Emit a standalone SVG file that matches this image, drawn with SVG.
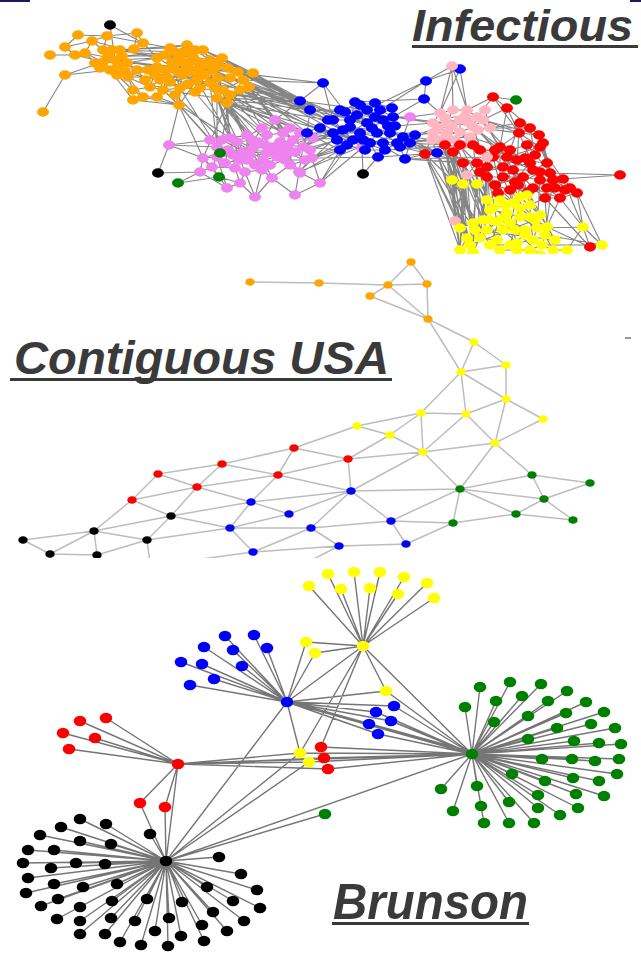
<svg xmlns="http://www.w3.org/2000/svg" width="641" height="953" viewBox="0 0 641 953">
<style>
.ei{stroke:#000;stroke-opacity:.48;stroke-width:1.15;fill:none}
.eu{stroke:#bdbdbd;stroke-width:1.5;fill:none}
.eb{stroke:#3a3a3a;stroke-opacity:.7;stroke-width:1.4;fill:none}
.ni{rx:6px;ry:4.7px}
.nu{rx:4.7px;ry:3.8px}
.nb{rx:6.3px;ry:5.2px}
.o{fill:#ffa500}.b{fill:#0000ff}.v{fill:#ee82ee}.p{fill:#ffb6c1}.r{fill:#ff0000}.y{fill:#ffff00}.g{fill:#008000}.k{fill:#000}
.t{font-family:"Liberation Sans",Arial,sans-serif;font-weight:bold;font-style:italic;fill:#3a3a3a}
.ul{fill:#3a3a3a}
</style>
<defs>
<clipPath id="clipInf"><rect x="0" y="0" width="641" height="254"/></clipPath>
<clipPath id="clipUsa"><rect x="0" y="255" width="641" height="303"/></clipPath>
</defs>
<rect width="641" height="953" fill="#fff"/>
<rect x="0" y="0" width="30" height="2" fill="#1c1c5c"/>
<rect x="630" y="0" width="11" height="2" fill="#1c1c5c"/>
<line x1="625" y1="338" x2="631" y2="338" stroke="#333" stroke-width="1"/>

<!-- ================= INFECTIOUS ================= -->
<g id="infectious" clip-path="url(#clipInf)">
<g id="inf-connectors">
<path class="ei" d="M78 35L107 36M107 36L137 33M78 35L65 47M65 47L92 41M92 41L107 36M65 47L75 55M50 55L75 55M75 55L103 62M85 53L103 62M85 53L92 41M65 75L43 112M65 75L103 62M65 75L110 70M110 25L143 43M110 25L115 60M137 33L143 43M137 33L134 49M143 43L134 49M107 36L103 50M103 50L120 50M120 50L134 49M103 50L115 60M115 60L127 63M127 63L110 70M103 62L115 60M110 70L128 77M128 77L137 70M137 70L127 63M120 50L127 63M92 41L103 50M103 62L127 63M95 63L103 62M95 63L110 70M85 53L95 63
M115 60L157 67M115 60L173 67M127 63L157 58M103 50L170 48M120 50L187 45M134 49L170 48M143 43L157 58M127 63L187 67M110 70L157 67M128 77L167 77M137 70L150 87M103 62L133 90M110 70L133 100M128 77L133 90M128 77L143 97M137 70L200 67M115 60L180 57M120 50L157 58M103 50L193 57M92 41L157 58M107 36L170 48M85 53L157 67M95 63L150 87
M133 90L143 97M133 90L150 87M133 100L143 97M143 97L157 97M150 87L163 90M157 97L163 90M163 90L180 88M150 87L157 67M157 67L167 77M167 77L182 75M182 75L197 80M197 80L210 83M210 83L223 90M223 90L217 98M217 98L227 103M223 90L227 103M173 67L187 67M187 67L200 67M200 67L213 70M213 70L222 58M222 58L238 72M238 72L253 73M238 72L243 80M243 80L249 87M210 60L222 58M203 50L210 60M187 45L203 50M170 48L187 45M170 48L180 57M180 57L193 57M193 57L210 60M157 58L170 48M157 58L173 67M180 57L173 67M193 57L200 67M182 75L187 67M197 80L200 67M210 83L213 70M163 90L167 77M180 88L182 75M180 88L179 105M179 105L163 90M179 105L197 80M230 78L243 80M230 78L213 70M205 75L197 80M205 75L213 70M190 62L193 57M190 62L200 67M145 80L150 87M145 80L137 70M210 83L238 72M223 90L243 80M210 60L238 72M217 98L210 83M227 103L243 80M249 87L227 103M222 58L253 73M187 67L197 80M157 67L163 90M173 67L180 88M167 77L180 88M200 67L223 90M213 70L227 103M187 45L210 60M203 50L222 58M157 97L179 105M143 97L179 105M133 100L179 105M163 90L217 98M150 87L210 83M157 67L222 58M173 67L238 72M180 88L223 90M167 77L230 78
M108 57L120 50M108 57L103 62M118 66L127 63M118 66L110 70M100 68L95 63M122 56L115 60M112 50L103 50M125 72L128 77M117 75L110 70M165 55L170 48M175 52L187 45M185 52L193 57M195 50L203 50M172 62L180 57M182 62L190 62M198 62L210 60M208 65L213 70M218 65L222 58M228 68L238 72M165 70L173 67M178 72L182 75M192 72L197 80M203 74L213 70M218 78L223 90M170 82L163 90M188 84L180 88M200 88L210 83M215 88L223 90M160 80L150 87M175 95L179 105M195 92L197 80M230 95L227 103M240 90L249 87M155 75L157 67M148 70L137 70M165 55L198 62M175 52L208 65M172 62L218 78M182 62L230 95M198 62L240 90M208 65L200 88M165 70L215 88M178 72L230 95M192 72L240 90M160 80L218 65M170 82L228 68M188 84L148 70M118 66L165 70M108 57L165 55M125 72L178 72M122 56L175 52M112 50L185 52M100 68L160 80
M253 73L300 101M253 73L310 110M249 87L300 101M249 87L310 110M249 87L328 120M243 80L323 83M238 72L300 101M227 103L300 101M227 103L307 133M217 98L310 110M217 98L275 120M223 90L333 120M210 83L300 101M222 58L300 101M222 58L310 110M203 50L300 101M230 78L310 110M243 80L333 130M249 87L343 130M227 103L333 133M210 83L328 133M253 73L340 120M238 72L350 120M187 45L300 101M200 67L310 110M197 80L307 133M213 70L323 83M243 80L300 101M249 87L307 133M253 73L333 120M238 72L310 110M230 78L300 101M217 98L300 101M223 90L310 110M210 60L300 101M213 70L310 110M227 103L328 120M240 90L310 110M230 95L300 101M218 78L320 128M228 68L300 101M215 88L307 133M240 90L337 140
M179 105L169 145M179 105L210 140M179 105L217 147M179 105L230 138M227 103L230 138M227 103L247 135M217 98L230 138M217 98L247 135M217 98L267 135M223 90L267 135M223 90L283 133M227 103L283 133M210 83L247 135M217 98L217 147M227 103L203 158M223 90L253 148M217 98L267 153M227 103L273 147M249 87L293 140M243 80L283 133M227 103L262 170M217 98L245 172M223 90L235 168M179 105L203 158M180 88L217 147M197 80L230 138M210 83L217 147M227 103L258 142M217 98L243 152M249 87L275 120M243 80L275 120M230 95L222 140M240 90L262 128M175 95L222 140M195 92L237 142
M169 145L210 140M169 145L203 158M169 145L217 147M210 140L217 147M217 147L230 138M230 138L247 135M247 135L253 148M253 148L267 135M267 135L283 133M283 133L293 140M293 140L303 147M303 147L313 138M313 138L293 140M275 120L283 133M275 120L267 135M275 120L293 140M253 148L273 147M273 147L287 153M287 153L267 153M267 153L243 152M243 152L233 155M233 155L217 157M217 157L203 158M203 158L200 172M200 172L212 167M212 167L217 157M212 167L235 168M235 168L245 172M245 172L262 170M262 170L277 157M277 157L290 165M290 165L299 172M299 172L312 158M312 158L303 147M240 183L245 172M240 183L227 188M227 188L212 167M240 183L255 197M255 197L262 170M272 178L262 170M272 178L295 195M295 195L299 172M320 183L312 158M320 183L299 172M272 178L290 165M247 160L263 160M263 160L277 157M247 160L243 152M233 155L247 160M258 142L267 153M280 142L287 153M288 145L303 147M258 142L247 135M280 142L273 147M200 172L227 188M217 147L233 155M230 138L243 152M247 135L247 160M267 135L267 153M283 133L287 153M293 140L290 165M303 147L299 172M203 158L212 167M263 160L272 178M235 168L240 183M255 197L272 178M295 195L320 183M217 157L227 188M210 140L233 155M230 138L253 148M253 148L263 160M273 147L277 157M287 153L299 172M262 170L255 197M245 172L255 197
M222 140L237 142M237 142L252 140M252 140L265 145M265 145L278 150M278 150L295 152M295 152L305 160M305 160L285 160M285 160L270 165M270 165L255 165M255 165L240 160M240 160L225 163M225 163L228 150M228 150L250 155M262 128L290 128M290 128L300 133M300 133L310 150M222 140L250 155M237 142L270 165M252 140L285 160M265 145L305 160M225 163L278 150M228 150L295 152M240 160L262 128M255 165L290 128M262 128L237 142M300 133L278 150
M158 173L200 172M178 183L200 172M178 183L219 177M219 177L240 183M219 177L212 167M220 153L217 147M220 153L233 155M220 153L203 158M219 177L203 158M158 173L169 145
M313 138L307 133M313 138L333 133M303 147L340 150M312 158L340 150M320 183L340 150M320 183L353 140M299 172L343 130M293 140L333 120M288 145L333 133M312 158L360 133M303 147L343 130M313 138L353 140M275 120L300 101M275 120L307 133M290 165L340 150M299 172L370 143M312 158L378 157M320 183L362 148M287 153L333 133M300 173L340 150M362 148L370 143M362 148L353 140M363 174L362 148M363 174L378 157M410 117L393 117M410 117L403 137M313 138L328 120M303 147L307 133M293 140L307 133M310 150L337 140M300 133L320 128M305 160L347 145M295 152L337 140
M300 101L310 110M300 101L323 83M310 110L328 120M328 120L333 120M333 120L345 112M345 112L355 102M355 102L367 110M367 110L380 110M380 110L393 117M393 117L383 120M383 120L367 123M367 123L350 120M350 120L333 120M333 120L343 130M343 130L360 133M360 133L377 133M377 133L390 133M390 133L403 137M403 137L410 143M410 143L400 147M400 147L383 143M383 143L370 143M370 143L353 140M353 140L340 150M340 150L343 130M307 133L333 133M333 133L343 130M323 83L333 120M323 83L345 112M355 102L350 120M367 110L372 128M372 128L383 120M372 128L360 133M395 126L390 133M395 126L393 117M378 157L383 143M378 157L370 143M405 159L400 147M405 159L410 143M437 153L410 143M437 153L425 154M307 133L310 110M310 110L345 112M350 120L360 133M367 123L377 133M383 120L390 133M353 140L360 133M370 143L377 133M383 143L390 133M400 147L403 137M333 133L353 140M343 130L353 140M300 101L333 120M328 120L343 130M307 133L340 150M300 101L367 110M310 110L380 110M310 110L367 123M328 120L383 120M300 101L350 120M307 133L370 143M307 133L360 133M328 133L383 143M333 133L400 147M345 112L393 117M355 102L395 126M350 120L403 137M343 130L410 143M360 133L405 159M340 150L383 143
M340 110L357 115M357 115L375 117M375 117L388 126M350 127L363 140M363 140L397 143M397 143L385 150M385 150L365 150M365 150L347 145M320 128L337 140M392 108L375 103M375 103L360 105M360 105L340 110M415 135L397 143M340 110L388 126M357 115L397 143M320 128L385 150M337 140L392 108M350 127L415 135
M355 102L424 99M424 99L426 81M426 81L367 110M426 81L460 69M460 69L452 66M452 66L426 81M452 66L473 127M460 69L467 110M424 99L440 113M393 117L424 99M380 110L426 81M323 83L300 101M460 69L440 113M452 66L453 110
M393 117L433 123M403 137L433 133M410 143L432 140M410 117L440 113M395 126L433 123M403 137L425 154M405 159L425 154M410 143L445 145M400 147L453 152M405 159L463 163M378 157L425 154M390 133L447 133M383 143L440 140M410 143L477 163M403 137L463 163M400 147L487 167M405 159L493 157M393 117L447 123M410 143L460 132M378 157L453 152M405 159L477 163M403 137L445 145M390 133L432 140M437 153L453 152M437 153L445 145M415 135L438 128M397 143L445 138M385 150L462 145
M440 113L453 110M453 110L467 110M467 110L477 117M477 117L483 120M433 123L447 123M447 123L460 120M460 120L473 127M433 133L447 133M447 133L460 132M440 140L455 140M432 140L440 140M440 113L433 123M453 110L447 123M467 110L460 120M477 117L473 127M433 123L433 133M447 123L447 133M460 120L460 132M473 127L460 132M455 140L460 132M440 140L447 133M483 120L473 127M432 140L433 133M445 118L465 116M438 128L452 126M452 126L468 122M468 122L478 130M445 138L470 137M470 137L462 145M485 110L490 128M445 118L478 130M438 128L470 137M465 116L445 138
M477 117L493 97M483 120L507 108M473 127L519 133M483 120L519 133M460 132L473 145M455 140L453 152M447 133L445 145M440 140L445 145M473 127L500 147M460 132L487 157M455 140L463 163M447 133L477 163M483 120L539 135M473 127L507 157M440 140L453 152M433 133L425 154M460 132L493 157M483 120L500 147M447 123L473 145M477 117L517 160M483 120L513 170M473 127L487 167M467 110L493 97M493 97L516 100M440 113L452 66M490 128L520 123M490 128L530 128M478 130L495 150M470 137L510 150
M425 154L445 145M445 145L453 152M453 152L473 145M473 145L487 157M487 157L500 147M500 147L507 157M507 157L517 160M517 160L519 133M519 133L539 135M539 135L543 143M543 143L540 147M540 147L547 163M547 163L533 170M533 170L550 173M550 173L563 179M563 179L553 180M553 180L540 180M540 180L523 177M523 177L503 177M503 177L487 177M487 177L487 167M487 167L503 167M503 167L513 170M513 170L517 160M493 157L477 163M477 163L463 163M463 163L453 152M493 157L487 167M507 157L503 167M513 170L523 177M533 170L540 180M547 163L550 173M533 188L547 188M547 188L553 180M533 188L523 177M545 198L560 198M560 198L577 193M577 193L563 179M545 198L547 188M498 193L503 177M498 193L487 177M563 179L620 175M540 147L519 133M500 147L519 133M507 157L540 147M517 160L547 163M513 170L533 170M503 177L513 170M487 167L477 163M467 175L477 163M467 175L487 177M487 157L493 157M473 145L493 157M500 147L507 108M519 133L507 108M507 108L493 97M543 143L550 173M540 147L563 179M533 188L560 198M553 180L577 193M547 188L577 193M540 180L547 188M523 177L533 188M503 167L523 177M487 167L513 170M500 147L517 160M453 152L463 163M445 145L463 163M493 157L503 167M539 135L547 163M543 143L553 180M545 198L533 188M560 198L547 188M519 133L540 180M507 108L539 135M493 97L519 133
M460 145L480 150M480 150L495 150M495 150L510 150M510 150L527 145M527 145L525 158M525 158L530 163M530 163L540 172M540 172L518 185M518 185L528 192M528 192L515 182M555 188L570 188M535 155L480 172M480 172L495 185M495 185L510 190M565 190L555 188M520 123L530 128M460 145L525 158M480 150L540 172M495 150L528 192M510 150L555 188M527 145L565 190M535 155L515 182M480 172L530 163M495 185L540 172M520 123L510 150M530 128L535 155
M425 154L452 180M425 154L460 228M425 154L460 250M445 145L452 180M445 145L463 184M445 145L473 223M445 145L460 250M453 152L463 184M453 152L477 184M453 152L460 228M453 152L467 238M463 163L477 184M463 163L473 252M463 163L483 220M467 175L460 228M467 175L460 250M467 175L473 252M477 163L487 200M477 163L490 210M487 167L500 200M487 167L497 222M487 177L487 200M487 177L507 213M487 177L483 220M498 193L487 200M498 193L500 200M498 193L513 203M503 177L513 203M503 177L527 195M513 170L527 195M523 177L530 205M523 177L527 195M533 188L530 205M540 180L537 228M545 198L547 227M545 198L530 205M560 198L547 227M560 198L583 227M577 193L583 227M577 193L602 245M563 179L583 227M553 180L545 235M425 154L467 238M437 153L460 228M437 153L452 180M445 145L480 238M453 152L473 223M463 163L460 250M477 163L473 252M487 167L480 238M507 157L513 203M513 170L520 217M523 177L510 223M473 145L483 220M487 157L490 210M493 157L507 213M500 147L500 200M463 163L497 240M453 152L487 230M445 145L467 238M437 153L473 252M425 154L480 238M467 175L497 240M452 180L460 250M463 184L467 238M452 180L473 252M463 184L460 250M477 184L480 238M455 221L460 250M455 221L467 238M455 221L452 180M455 221L463 184M455 221L453 152M432 140L470 245M440 140L475 230M437 153L490 245M460 145L493 208M480 172L505 205M495 185L520 208M510 190L535 220M518 185L540 215M528 192L555 240
M590 247L583 227M590 247L547 227M590 247L545 198M620 175L563 179M602 245L583 227M602 245L545 235M620 175L550 173
M452 180L463 184M463 184L477 184M477 184L487 200M487 200L500 200M500 200L513 203M513 203L530 205M530 205L527 195M527 195L513 203M487 200L490 210M490 210L507 213M507 213L520 217M520 217L530 217M530 217L530 205M490 210L483 220M483 220L497 222M497 222L510 223M510 223L520 217M483 220L473 223M473 223L460 228M460 228L467 238M467 238L480 238M480 238L497 240M497 240L503 230M503 230L487 230M487 230L483 220M503 230L510 223M517 243L533 240M533 240L537 228M537 228L547 227M547 227L542 245M542 245L533 240M517 243L503 230M517 243L517 250M517 250L530 250M530 250L542 245M553 250L542 245M567 250L553 250M583 227L602 245M583 227L567 250M545 235L547 227M545 235L553 250M460 250L467 238M473 252L480 238M500 250L497 240M500 250L517 250M487 230L480 238M520 217L537 228M530 217L547 227M507 213L497 222M500 200L507 213M513 203L520 217M473 223L487 230M497 222L487 230M510 223L517 243M530 217L533 240M460 228L452 180M463 184L460 228M477 184L473 223M477 184L490 210M583 227L537 228M602 245L542 245
M493 208L505 205M505 205L520 208M520 208L535 220M490 220L503 218M503 218L515 230M515 230L525 230M490 245L510 245M510 245L525 235M475 230L470 245M540 215L555 240M520 197L540 215M493 208L525 230M505 205L490 245M520 208L510 245M490 220L525 235M503 218L540 255M475 230L555 240M470 245L535 220"/>
</g>
<g id="inf-nodes">
<g id="inf-orange" class="o">
<ellipse id="io1" class="ni" cx="78" cy="35"/><ellipse id="io2" class="ni" cx="107" cy="36"/><ellipse id="io3" class="ni" cx="137" cy="33"/><ellipse id="io4" class="ni" cx="65" cy="47"/><ellipse id="io5" class="ni" cx="92" cy="41"/><ellipse id="io6" class="ni" cx="50" cy="55"/><ellipse id="io7" class="ni" cx="75" cy="55"/><ellipse id="io8" class="ni" cx="85" cy="53"/><ellipse id="io9" class="ni" cx="143" cy="43"/><ellipse id="io10" class="ni" cx="134" cy="49"/><ellipse id="io11" class="ni" cx="65" cy="75"/><ellipse id="io12" class="ni" cx="43" cy="112"/><ellipse id="io13" class="ni" cx="103" cy="62"/><ellipse id="io14" class="ni" cx="115" cy="60"/><ellipse id="io15" class="ni" cx="127" cy="63"/><ellipse id="io16" class="ni" cx="110" cy="70"/><ellipse id="io17" class="ni" cx="103" cy="50"/><ellipse id="io18" class="ni" cx="120" cy="50"/><ellipse id="io19" class="ni" cx="128" cy="77"/><ellipse id="io20" class="ni" cx="137" cy="70"/><ellipse id="io21" class="ni" cx="133" cy="90"/><ellipse id="io22" class="ni" cx="133" cy="100"/><ellipse id="io23" class="ni" cx="143" cy="97"/><ellipse id="io24" class="ni" cx="150" cy="87"/><ellipse id="io25" class="ni" cx="157" cy="97"/><ellipse id="io26" class="ni" cx="163" cy="90"/><ellipse id="io27" class="ni" cx="180" cy="88"/><ellipse id="io28" class="ni" cx="179" cy="105"/><ellipse id="io29" class="ni" cx="170" cy="48"/><ellipse id="io30" class="ni" cx="187" cy="45"/><ellipse id="io31" class="ni" cx="203" cy="50"/><ellipse id="io32" class="ni" cx="222" cy="58"/><ellipse id="io33" class="ni" cx="210" cy="60"/><ellipse id="io34" class="ni" cx="253" cy="73"/><ellipse id="io35" class="ni" cx="238" cy="72"/><ellipse id="io36" class="ni" cx="243" cy="80"/><ellipse id="io37" class="ni" cx="249" cy="87"/><ellipse id="io38" class="ni" cx="223" cy="90"/><ellipse id="io39" class="ni" cx="217" cy="98"/><ellipse id="io40" class="ni" cx="227" cy="103"/><ellipse id="io41" class="ni" cx="173" cy="67"/><ellipse id="io42" class="ni" cx="187" cy="67"/><ellipse id="io43" class="ni" cx="200" cy="67"/><ellipse id="io44" class="ni" cx="213" cy="70"/><ellipse id="io45" class="ni" cx="197" cy="80"/><ellipse id="io46" class="ni" cx="210" cy="83"/><ellipse id="io47" class="ni" cx="157" cy="67"/><ellipse id="io48" class="ni" cx="167" cy="77"/><ellipse id="io49" class="ni" cx="182" cy="75"/><ellipse id="io50" class="ni" cx="180" cy="57"/><ellipse id="io51" class="ni" cx="193" cy="57"/><ellipse id="io52" class="ni" cx="157" cy="58"/><ellipse id="io53" class="ni" cx="95" cy="63"/><ellipse id="io54" class="ni" cx="145" cy="80"/><ellipse id="io55" class="ni" cx="190" cy="62"/><ellipse id="io56" class="ni" cx="205" cy="75"/><ellipse id="io57" class="ni" cx="230" cy="78"/>
<ellipse id="io58" class="ni" cx="108" cy="57"/><ellipse id="io59" class="ni" cx="118" cy="66"/><ellipse id="io60" class="ni" cx="100" cy="68"/><ellipse id="io61" class="ni" cx="122" cy="56"/><ellipse id="io62" class="ni" cx="112" cy="50"/><ellipse id="io63" class="ni" cx="125" cy="72"/><ellipse id="io64" class="ni" cx="117" cy="75"/><ellipse id="io65" class="ni" cx="165" cy="55"/><ellipse id="io66" class="ni" cx="175" cy="52"/><ellipse id="io67" class="ni" cx="185" cy="52"/><ellipse id="io68" class="ni" cx="195" cy="50"/><ellipse id="io69" class="ni" cx="172" cy="62"/><ellipse id="io70" class="ni" cx="182" cy="62"/><ellipse id="io71" class="ni" cx="198" cy="62"/><ellipse id="io72" class="ni" cx="208" cy="65"/><ellipse id="io73" class="ni" cx="218" cy="65"/><ellipse id="io74" class="ni" cx="228" cy="68"/><ellipse id="io75" class="ni" cx="165" cy="70"/><ellipse id="io76" class="ni" cx="178" cy="72"/><ellipse id="io77" class="ni" cx="192" cy="72"/><ellipse id="io78" class="ni" cx="203" cy="74"/><ellipse id="io79" class="ni" cx="218" cy="78"/><ellipse id="io80" class="ni" cx="170" cy="82"/><ellipse id="io81" class="ni" cx="188" cy="84"/><ellipse id="io82" class="ni" cx="200" cy="88"/><ellipse id="io83" class="ni" cx="215" cy="88"/><ellipse id="io84" class="ni" cx="160" cy="80"/><ellipse id="io85" class="ni" cx="175" cy="95"/><ellipse id="io86" class="ni" cx="195" cy="92"/><ellipse id="io87" class="ni" cx="230" cy="95"/><ellipse id="io88" class="ni" cx="240" cy="90"/><ellipse id="io89" class="ni" cx="155" cy="75"/><ellipse id="io90" class="ni" cx="148" cy="70"/>
</g>
<g id="inf-violet" class="v">
<ellipse id="iv1" class="ni" cx="169" cy="145"/><ellipse id="iv2" class="ni" cx="210" cy="140"/><ellipse id="iv3" class="ni" cx="217" cy="147"/><ellipse id="iv4" class="ni" cx="230" cy="138"/><ellipse id="iv5" class="ni" cx="247" cy="135"/><ellipse id="iv6" class="ni" cx="267" cy="135"/><ellipse id="iv7" class="ni" cx="275" cy="120"/><ellipse id="iv8" class="ni" cx="283" cy="133"/><ellipse id="iv9" class="ni" cx="293" cy="140"/><ellipse id="iv10" class="ni" cx="303" cy="147"/><ellipse id="iv11" class="ni" cx="313" cy="138"/><ellipse id="iv12" class="ni" cx="253" cy="148"/><ellipse id="iv13" class="ni" cx="273" cy="147"/><ellipse id="iv14" class="ni" cx="287" cy="153"/><ellipse id="iv15" class="ni" cx="267" cy="153"/><ellipse id="iv16" class="ni" cx="243" cy="152"/><ellipse id="iv17" class="ni" cx="203" cy="158"/><ellipse id="iv18" class="ni" cx="217" cy="157"/><ellipse id="iv19" class="ni" cx="233" cy="155"/><ellipse id="iv20" class="ni" cx="247" cy="160"/><ellipse id="iv21" class="ni" cx="263" cy="160"/><ellipse id="iv22" class="ni" cx="277" cy="157"/><ellipse id="iv23" class="ni" cx="312" cy="158"/><ellipse id="iv24" class="ni" cx="200" cy="172"/><ellipse id="iv25" class="ni" cx="212" cy="167"/><ellipse id="iv26" class="ni" cx="235" cy="168"/><ellipse id="iv27" class="ni" cx="245" cy="172"/><ellipse id="iv28" class="ni" cx="262" cy="170"/><ellipse id="iv29" class="ni" cx="290" cy="165"/><ellipse id="iv30" class="ni" cx="299" cy="172"/><ellipse id="iv31" class="ni" cx="240" cy="183"/><ellipse id="iv32" class="ni" cx="227" cy="188"/><ellipse id="iv33" class="ni" cx="272" cy="178"/><ellipse id="iv34" class="ni" cx="255" cy="197"/><ellipse id="iv35" class="ni" cx="295" cy="195"/><ellipse id="iv36" class="ni" cx="320" cy="183"/><ellipse id="iv37" class="ni" cx="410" cy="117"/><ellipse id="iv38" class="ni" cx="362" cy="148"/><ellipse id="iv39" class="ni" cx="300" cy="173"/><ellipse id="iv40" class="ni" cx="280" cy="142"/><ellipse id="iv41" class="ni" cx="258" cy="142"/><ellipse id="iv42" class="ni" cx="288" cy="145"/>
<ellipse id="iv43" class="ni" cx="222" cy="140"/><ellipse id="iv44" class="ni" cx="237" cy="142"/><ellipse id="iv45" class="ni" cx="252" cy="140"/><ellipse id="iv46" class="ni" cx="265" cy="145"/><ellipse id="iv47" class="ni" cx="278" cy="150"/><ellipse id="iv48" class="ni" cx="295" cy="152"/><ellipse id="iv49" class="ni" cx="305" cy="160"/><ellipse id="iv50" class="ni" cx="285" cy="160"/><ellipse id="iv51" class="ni" cx="270" cy="165"/><ellipse id="iv52" class="ni" cx="255" cy="165"/><ellipse id="iv53" class="ni" cx="240" cy="160"/><ellipse id="iv54" class="ni" cx="225" cy="163"/><ellipse id="iv55" class="ni" cx="228" cy="150"/><ellipse id="iv56" class="ni" cx="262" cy="128"/><ellipse id="iv57" class="ni" cx="290" cy="128"/><ellipse id="iv58" class="ni" cx="300" cy="133"/><ellipse id="iv59" class="ni" cx="310" cy="150"/><ellipse id="iv60" class="ni" cx="250" cy="155"/>
</g>
<g id="inf-blue" class="b">
<ellipse id="ib1" class="ni" cx="323" cy="83"/><ellipse id="ib2" class="ni" cx="300" cy="101"/><ellipse id="ib3" class="ni" cx="310" cy="110"/><ellipse id="ib4" class="ni" cx="355" cy="102"/><ellipse id="ib5" class="ni" cx="424" cy="99"/><ellipse id="ib6" class="ni" cx="426" cy="81"/><ellipse id="ib7" class="ni" cx="460" cy="69"/><ellipse id="ib8" class="ni" cx="367" cy="110"/><ellipse id="ib9" class="ni" cx="380" cy="110"/><ellipse id="ib10" class="ni" cx="333" cy="120"/><ellipse id="ib11" class="ni" cx="350" cy="120"/><ellipse id="ib12" class="ni" cx="367" cy="123"/><ellipse id="ib13" class="ni" cx="383" cy="120"/><ellipse id="ib14" class="ni" cx="393" cy="117"/><ellipse id="ib15" class="ni" cx="343" cy="130"/><ellipse id="ib16" class="ni" cx="360" cy="133"/><ellipse id="ib17" class="ni" cx="377" cy="133"/><ellipse id="ib18" class="ni" cx="390" cy="133"/><ellipse id="ib19" class="ni" cx="403" cy="137"/><ellipse id="ib20" class="ni" cx="410" cy="143"/><ellipse id="ib21" class="ni" cx="400" cy="147"/><ellipse id="ib22" class="ni" cx="383" cy="143"/><ellipse id="ib23" class="ni" cx="370" cy="143"/><ellipse id="ib24" class="ni" cx="353" cy="140"/><ellipse id="ib25" class="ni" cx="340" cy="150"/><ellipse id="ib26" class="ni" cx="378" cy="157"/><ellipse id="ib27" class="ni" cx="405" cy="159"/><ellipse id="ib28" class="ni" cx="437" cy="153"/><ellipse id="ib29" class="ni" cx="307" cy="133"/><ellipse id="ib30" class="ni" cx="333" cy="133"/><ellipse id="ib31" class="ni" cx="328" cy="120"/><ellipse id="ib32" class="ni" cx="345" cy="112"/><ellipse id="ib33" class="ni" cx="372" cy="128"/><ellipse id="ib34" class="ni" cx="395" cy="126"/>
<ellipse id="ib35" class="ni" cx="340" cy="110"/><ellipse id="ib36" class="ni" cx="357" cy="115"/><ellipse id="ib37" class="ni" cx="375" cy="117"/><ellipse id="ib38" class="ni" cx="388" cy="126"/><ellipse id="ib39" class="ni" cx="350" cy="127"/><ellipse id="ib40" class="ni" cx="363" cy="140"/><ellipse id="ib41" class="ni" cx="397" cy="143"/><ellipse id="ib42" class="ni" cx="385" cy="150"/><ellipse id="ib43" class="ni" cx="365" cy="150"/><ellipse id="ib44" class="ni" cx="347" cy="145"/><ellipse id="ib45" class="ni" cx="320" cy="128"/><ellipse id="ib46" class="ni" cx="337" cy="140"/><ellipse id="ib47" class="ni" cx="392" cy="108"/><ellipse id="ib48" class="ni" cx="360" cy="105"/><ellipse id="ib49" class="ni" cx="375" cy="103"/><ellipse id="ib50" class="ni" cx="415" cy="135"/>
</g>
<g id="inf-pink" class="p">
<ellipse id="ip1" class="ni" cx="452" cy="66"/><ellipse id="ip2" class="ni" cx="440" cy="113"/><ellipse id="ip3" class="ni" cx="453" cy="110"/><ellipse id="ip4" class="ni" cx="467" cy="110"/><ellipse id="ip5" class="ni" cx="477" cy="117"/><ellipse id="ip6" class="ni" cx="433" cy="123"/><ellipse id="ip7" class="ni" cx="447" cy="123"/><ellipse id="ip8" class="ni" cx="473" cy="127"/><ellipse id="ip9" class="ni" cx="433" cy="133"/><ellipse id="ip10" class="ni" cx="447" cy="133"/><ellipse id="ip11" class="ni" cx="460" cy="132"/><ellipse id="ip12" class="ni" cx="440" cy="140"/><ellipse id="ip13" class="ni" cx="432" cy="140"/><ellipse id="ip14" class="ni" cx="483" cy="120"/><ellipse id="ip15" class="ni" cx="460" cy="120"/><ellipse id="ip16" class="ni" cx="455" cy="140"/>
<ellipse id="ip20" class="ni" cx="445" cy="118"/><ellipse id="ip21" class="ni" cx="465" cy="116"/><ellipse id="ip22" class="ni" cx="438" cy="128"/><ellipse id="ip23" class="ni" cx="452" cy="126"/><ellipse id="ip24" class="ni" cx="468" cy="122"/><ellipse id="ip25" class="ni" cx="478" cy="130"/><ellipse id="ip26" class="ni" cx="445" cy="138"/><ellipse id="ip27" class="ni" cx="470" cy="137"/><ellipse id="ip28" class="ni" cx="462" cy="145"/><ellipse id="ip29" class="ni" cx="485" cy="110"/><ellipse id="ip30" class="ni" cx="490" cy="128"/>
</g>
<g id="inf-red" class="r">
<ellipse id="ir1" class="ni" cx="493" cy="97"/><ellipse id="ir2" class="ni" cx="507" cy="108"/><ellipse id="ir3" class="ni" cx="519" cy="133"/><ellipse id="ir4" class="ni" cx="539" cy="135"/><ellipse id="ir5" class="ni" cx="543" cy="143"/><ellipse id="ir6" class="ni" cx="540" cy="147"/><ellipse id="ir7" class="ni" cx="425" cy="154"/><ellipse id="ir8" class="ni" cx="445" cy="145"/><ellipse id="ir9" class="ni" cx="453" cy="152"/><ellipse id="ir10" class="ni" cx="473" cy="145"/><ellipse id="ir11" class="ni" cx="500" cy="147"/><ellipse id="ir12" class="ni" cx="507" cy="157"/><ellipse id="ir13" class="ni" cx="493" cy="157"/><ellipse id="ir14" class="ni" cx="477" cy="163"/><ellipse id="ir15" class="ni" cx="463" cy="163"/><ellipse id="ir16" class="ni" cx="487" cy="167"/><ellipse id="ir17" class="ni" cx="503" cy="167"/><ellipse id="ir18" class="ni" cx="517" cy="160"/><ellipse id="ir19" class="ni" cx="513" cy="170"/><ellipse id="ir20" class="ni" cx="547" cy="163"/><ellipse id="ir21" class="ni" cx="533" cy="170"/><ellipse id="ir22" class="ni" cx="550" cy="173"/><ellipse id="ir23" class="ni" cx="503" cy="177"/><ellipse id="ir24" class="ni" cx="523" cy="177"/><ellipse id="ir25" class="ni" cx="540" cy="180"/><ellipse id="ir26" class="ni" cx="553" cy="180"/><ellipse id="ir27" class="ni" cx="563" cy="179"/><ellipse id="ir28" class="ni" cx="533" cy="188"/><ellipse id="ir29" class="ni" cx="547" cy="188"/><ellipse id="ir30" class="ni" cx="620" cy="175"/><ellipse id="ir31" class="ni" cx="577" cy="193"/><ellipse id="ir32" class="ni" cx="560" cy="198"/><ellipse id="ir33" class="ni" cx="545" cy="198"/><ellipse id="ir34" class="ni" cx="498" cy="193"/><ellipse id="ir35" class="ni" cx="590" cy="247"/><ellipse id="ir36" class="ni" cx="487" cy="177"/>
<ellipse id="ir37" class="ni" cx="460" cy="145"/><ellipse id="ir38" class="ni" cx="480" cy="150"/><ellipse id="ir39" class="ni" cx="495" cy="150"/><ellipse id="ir40" class="ni" cx="510" cy="150"/><ellipse id="ir41" class="ni" cx="527" cy="145"/><ellipse id="ir42" class="ni" cx="525" cy="158"/><ellipse id="ir43" class="ni" cx="530" cy="163"/><ellipse id="ir44" class="ni" cx="540" cy="172"/><ellipse id="ir45" class="ni" cx="518" cy="185"/><ellipse id="ir46" class="ni" cx="528" cy="192"/><ellipse id="ir47" class="ni" cx="515" cy="182"/><ellipse id="ir48" class="ni" cx="555" cy="188"/><ellipse id="ir49" class="ni" cx="570" cy="188"/><ellipse id="ir50" class="ni" cx="535" cy="155"/><ellipse id="ir51" class="ni" cx="480" cy="172"/><ellipse id="ir52" class="ni" cx="495" cy="185"/><ellipse id="ir53" class="ni" cx="510" cy="190"/><ellipse id="ir54" class="ni" cx="565" cy="190"/><ellipse id="ir55" class="ni" cx="520" cy="123"/><ellipse id="ir56" class="ni" cx="530" cy="128"/>
</g>
<g id="inf-pink2" class="p">
<ellipse id="ip17" class="ni" cx="487" cy="157"/><ellipse id="ip18" class="ni" cx="467" cy="175"/><ellipse id="ip19" class="ni" cx="455" cy="221"/>
</g>
<g id="inf-yellow" class="y">
<ellipse id="iy1" class="ni" cx="452" cy="180"/><ellipse id="iy2" class="ni" cx="463" cy="184"/><ellipse id="iy3" class="ni" cx="477" cy="184"/><ellipse id="iy4" class="ni" cx="487" cy="200"/><ellipse id="iy5" class="ni" cx="500" cy="200"/><ellipse id="iy6" class="ni" cx="513" cy="203"/><ellipse id="iy7" class="ni" cx="530" cy="205"/><ellipse id="iy8" class="ni" cx="527" cy="195"/><ellipse id="iy9" class="ni" cx="490" cy="210"/><ellipse id="iy10" class="ni" cx="507" cy="213"/><ellipse id="iy11" class="ni" cx="520" cy="217"/><ellipse id="iy12" class="ni" cx="530" cy="217"/><ellipse id="iy13" class="ni" cx="483" cy="220"/><ellipse id="iy14" class="ni" cx="497" cy="222"/><ellipse id="iy15" class="ni" cx="510" cy="223"/><ellipse id="iy16" class="ni" cx="473" cy="223"/><ellipse id="iy17" class="ni" cx="460" cy="228"/><ellipse id="iy18" class="ni" cx="487" cy="230"/><ellipse id="iy19" class="ni" cx="503" cy="230"/><ellipse id="iy20" class="ni" cx="537" cy="228"/><ellipse id="iy21" class="ni" cx="547" cy="227"/><ellipse id="iy22" class="ni" cx="467" cy="238"/><ellipse id="iy23" class="ni" cx="480" cy="238"/><ellipse id="iy24" class="ni" cx="497" cy="240"/><ellipse id="iy25" class="ni" cx="517" cy="243"/><ellipse id="iy26" class="ni" cx="533" cy="240"/><ellipse id="iy27" class="ni" cx="542" cy="245"/><ellipse id="iy28" class="ni" cx="583" cy="227"/><ellipse id="iy29" class="ni" cx="602" cy="245"/><ellipse id="iy30" class="ni" cx="460" cy="250"/><ellipse id="iy31" class="ni" cx="473" cy="252"/><ellipse id="iy32" class="ni" cx="517" cy="250"/><ellipse id="iy33" class="ni" cx="530" cy="250"/><ellipse id="iy34" class="ni" cx="553" cy="250"/><ellipse id="iy35" class="ni" cx="567" cy="250"/><ellipse id="iy36" class="ni" cx="500" cy="250"/><ellipse id="iy37" class="ni" cx="545" cy="235"/>
<ellipse id="iy38" class="ni" cx="493" cy="208"/><ellipse id="iy39" class="ni" cx="505" cy="205"/><ellipse id="iy40" class="ni" cx="520" cy="208"/><ellipse id="iy41" class="ni" cx="490" cy="220"/><ellipse id="iy42" class="ni" cx="503" cy="218"/><ellipse id="iy43" class="ni" cx="515" cy="230"/><ellipse id="iy44" class="ni" cx="525" cy="230"/><ellipse id="iy45" class="ni" cx="490" cy="245"/><ellipse id="iy46" class="ni" cx="510" cy="245"/><ellipse id="iy47" class="ni" cx="525" cy="235"/><ellipse id="iy48" class="ni" cx="475" cy="230"/><ellipse id="iy49" class="ni" cx="470" cy="245"/><ellipse id="iy50" class="ni" cx="535" cy="220"/><ellipse id="iy51" class="ni" cx="520" cy="197"/><ellipse id="iy52" class="ni" cx="540" cy="215"/><ellipse id="iy53" class="ni" cx="555" cy="240"/><ellipse id="iy54" class="ni" cx="540" cy="255"/>
</g>
<g id="inf-green" class="g">
<ellipse id="ig1" class="ni" cx="178" cy="183"/><ellipse id="ig2" class="ni" cx="219" cy="177"/><ellipse id="ig3" class="ni" cx="220" cy="153"/><ellipse id="ig4" class="ni" cx="516" cy="100"/>
</g>
<g id="inf-black" class="k">
<ellipse id="ik1" class="ni" cx="110" cy="25"/><ellipse id="ik2" class="ni" cx="158" cy="173"/><ellipse id="ik3" class="ni" cx="363" cy="174"/>
</g>
</g>
</g>
<g id="label-infectious">
<text class="t" x="412" y="41" font-size="44" textLength="221" lengthAdjust="spacingAndGlyphs">Infectious</text>
<rect class="ul" x="412" y="45" width="226" height="3"/>
</g>

<!-- ================= CONTIGUOUS USA ================= -->
<g id="usa" clip-path="url(#clipUsa)">
<g id="usa-connectors">
<path class="eu" d="M250 282L319 283M319 283L388 285M388 285L427 284M411 262L388 285M411 262L427 284M388 285L370 296M370 296L428 319M388 285L428 319M427 284L428 319M428 319L461 372M428 319L474 342
M474 342L506 365M474 342L461 372M461 372L506 365M506 365L506 399M461 372L506 399M461 372L466 414M461 372L421 413M506 399L466 414M506 399L543 419M506 399L495 443M421 413L466 414M421 413L357 426M421 413L390 435M421 413L423 452M466 414L423 452M466 414L495 443M357 426L390 435M357 426L294 448M390 435L423 452M390 435L348 459M423 452L495 443M543 419L495 443M423 452L348 459M423 452L351 491M423 452L460 489M495 443L460 489M495 443L532 475
M294 448L222 464M294 448L278 475M294 448L348 459M222 464L158 474M222 464L197 487M222 464L278 475M158 474L197 487M158 474L132 500M278 475L197 487M278 475L348 459M278 475L351 491M278 475L251 502M197 487L132 500M197 487L171 516M197 487L251 502M348 459L351 491M132 500L171 516M132 500L94 531
M351 491L251 502M351 491L289 514M351 491L311 528M351 491L391 521M351 491L460 489M251 502L289 514M251 502L230 528M251 502L171 516M289 514L230 528M230 528L311 528M230 528L253 552M230 528L171 516M230 528L147 540M311 528L391 521M311 528L339 546M391 521L406 544M391 521L460 489M391 521L453 523M339 546L406 544M253 552L311 528M253 552L339 546M406 544L453 523M253 552L150 566M339 546L300 566
M460 489L453 523M460 489L532 475M460 489L544 499M460 489L516 514M453 523L516 514M532 475L590 483M532 475L544 499M590 483L544 499M544 499L516 514M544 499L573 520M516 514L573 520
M171 516L94 531M171 516L147 540M94 531L23 540M94 531L50 554M94 531L97 555M94 531L147 540M23 540L50 554M50 554L97 555M97 555L147 540M147 540L151 570"/>
</g>
<g id="usa-nodes">
<g class="o"><ellipse id="u1" class="nu" cx="411" cy="262"/><ellipse id="u2" class="nu" cx="250" cy="282"/><ellipse id="u3" class="nu" cx="319" cy="283"/><ellipse id="u4" class="nu" cx="388" cy="285"/><ellipse id="u5" class="nu" cx="427" cy="284"/><ellipse id="u6" class="nu" cx="370" cy="296"/><ellipse id="u7" class="nu" cx="428" cy="319"/></g>
<g class="y"><ellipse id="u8" class="nu" cx="474" cy="342"/><ellipse id="u9" class="nu" cx="506" cy="365"/><ellipse id="u10" class="nu" cx="461" cy="372"/><ellipse id="u11" class="nu" cx="506" cy="399"/><ellipse id="u12" class="nu" cx="421" cy="413"/><ellipse id="u13" class="nu" cx="466" cy="414"/><ellipse id="u14" class="nu" cx="543" cy="419"/><ellipse id="u15" class="nu" cx="357" cy="426"/><ellipse id="u16" class="nu" cx="390" cy="435"/><ellipse id="u17" class="nu" cx="495" cy="443"/><ellipse id="u18" class="nu" cx="423" cy="452"/></g>
<g class="r"><ellipse id="u19" class="nu" cx="294" cy="448"/><ellipse id="u20" class="nu" cx="348" cy="459"/><ellipse id="u21" class="nu" cx="222" cy="464"/><ellipse id="u22" class="nu" cx="158" cy="474"/><ellipse id="u23" class="nu" cx="278" cy="475"/><ellipse id="u24" class="nu" cx="197" cy="487"/><ellipse id="u25" class="nu" cx="132" cy="500"/></g>
<g class="b"><ellipse id="u26" class="nu" cx="351" cy="491"/><ellipse id="u27" class="nu" cx="251" cy="502"/><ellipse id="u28" class="nu" cx="289" cy="514"/><ellipse id="u29" class="nu" cx="230" cy="528"/><ellipse id="u30" class="nu" cx="311" cy="528"/><ellipse id="u31" class="nu" cx="391" cy="521"/><ellipse id="u32" class="nu" cx="253" cy="552"/><ellipse id="u33" class="nu" cx="339" cy="546"/><ellipse id="u34" class="nu" cx="406" cy="544"/></g>
<g class="g"><ellipse id="u35" class="nu" cx="460" cy="489"/><ellipse id="u36" class="nu" cx="532" cy="475"/><ellipse id="u37" class="nu" cx="590" cy="483"/><ellipse id="u38" class="nu" cx="544" cy="499"/><ellipse id="u39" class="nu" cx="516" cy="514"/><ellipse id="u40" class="nu" cx="573" cy="520"/><ellipse id="u41" class="nu" cx="453" cy="523"/></g>
<g class="k"><ellipse id="u42" class="nu" cx="171" cy="516"/><ellipse id="u43" class="nu" cx="94" cy="531"/><ellipse id="u44" class="nu" cx="23" cy="540"/><ellipse id="u45" class="nu" cx="147" cy="540"/><ellipse id="u46" class="nu" cx="50" cy="554"/><ellipse id="u47" class="nu" cx="97" cy="555"/></g>
</g>
</g>
<g id="label-usa">
<text class="t" x="14" y="374" font-size="47" textLength="375" lengthAdjust="spacingAndGlyphs">Contiguous USA</text>
<rect class="ul" x="10" y="378" width="382" height="3"/>
</g>

<!-- ================= BRUNSON ================= -->
<g id="brunson">
<g id="brunson-connectors">
<path class="eb" d="M166 861L80 819M166 861L106 824M166 861L61 827M166 861L40 835M166 861L80 841M166 861L111 844M166 861L150 834M166 861L28 850M166 861L54 850M166 861L23 863M166 861L51 868M166 861L76 863M166 861L105 864M166 861L28 878M166 861L54 884M166 861L83 887M166 861L117 884M166 861L26 893M166 861L58 899M166 861L41 906M166 861L80 907M166 861L112 901M166 861L147 899M166 861L57 919M166 861L80 921M166 861L111 918M166 861L135 921M166 861L80 934M166 861L105 934M166 861L120 942M166 861L141 945M166 861L155 931M166 861L168 946M166 861L169 918M166 861L181 936M166 861L182 902M166 861L202 925M166 861L204 941M166 861L213 912M166 861L207 887M166 861L227 931M166 861L233 901M166 861L244 921M166 861L260 908M166 861L257 890M166 861L241 874M166 861L219 857
M178 764L80 721M178 764L106 718M178 764L63 733M178 764L95 738M178 764L69 749M178 764L140 803M178 764L165 807M140 803L166 861M165 807L166 861M178 764L166 861
M178 764L300 753M178 764L309 762M178 764L472 754M178 764L328 769M178 764L324 758
M166 861L287 702M166 861L300 753M166 861L309 762M166 861L472 754M166 861L325 814
M287 702L225 636M287 702L254 635M287 702L204 647M287 702L233 650M287 702L267 648M287 702L181 662M287 702L202 664M287 702L242 666M287 702L214 679M287 702L190 685M287 702L306 642M287 702L315 653M287 702L363 646M287 702L386 691M287 702L394 706M287 702L376 712M287 702L391 721M287 702L369 724M287 702L378 734M287 702L472 754M287 701L472 752M287 702L300 753
M363 646L328 574M363 646L354 572M363 646L380 572M363 646L404 577M363 646L427 583M363 646L434 598M363 646L309 586M363 646L341 589M363 646L370 588M363 646L398 594M363 646L306 642M363 646L315 653M363 646L386 691M363 646L472 754M363 646L300 753M363 646L321 747
M472 754L480 687M472 754L510 682M472 754L541 684M472 754L567 691M472 754L586 702M472 754L604 712M472 754L615 728M472 754L621 744M472 754L619 759M472 754L617 774M472 754L604 796M472 754L465 707M472 754L496 701M472 754L522 696M472 754L548 701M472 754L566 713M472 754L591 724M472 754L599 743M472 754L595 761M472 754L599 781M472 754L576 794M472 754L578 808M472 754L560 815M472 754L534 823M472 754L509 823M472 754L484 823M472 754L453 811M472 754L441 789M472 754L477 786M472 754L481 806M472 754L509 802M472 754L538 795M472 754L538 808M472 754L512 774M472 754L545 781M472 754L573 778M472 754L542 759M472 754L572 759M472 754L574 741M472 754L557 728M472 754L528 739M472 754L528 716M472 754L494 722
M472 754L394 706M472 754L376 712M472 754L391 721M472 754L369 724M472 754L378 734M472 754L386 691M472 754L300 753M472 754L309 762M472 754L321 747M472 754L324 758M472 754L328 769"/>
</g>
<g id="brunson-nodes">
<g id="br-black" class="k">
<ellipse id="bk0" class="nb" cx="166" cy="861"/><ellipse id="bk1" class="nb" cx="80" cy="819"/><ellipse id="bk2" class="nb" cx="106" cy="824"/><ellipse id="bk3" class="nb" cx="61" cy="827"/><ellipse id="bk4" class="nb" cx="40" cy="835"/><ellipse id="bk5" class="nb" cx="80" cy="841"/><ellipse id="bk6" class="nb" cx="111" cy="844"/><ellipse id="bk7" class="nb" cx="150" cy="834"/><ellipse id="bk8" class="nb" cx="28" cy="850"/><ellipse id="bk9" class="nb" cx="54" cy="850"/><ellipse id="bk10" class="nb" cx="23" cy="863"/><ellipse id="bk11" class="nb" cx="51" cy="868"/><ellipse id="bk12" class="nb" cx="76" cy="863"/><ellipse id="bk13" class="nb" cx="105" cy="864"/><ellipse id="bk14" class="nb" cx="28" cy="878"/><ellipse id="bk15" class="nb" cx="54" cy="884"/><ellipse id="bk16" class="nb" cx="83" cy="887"/><ellipse id="bk17" class="nb" cx="117" cy="884"/><ellipse id="bk18" class="nb" cx="26" cy="893"/><ellipse id="bk19" class="nb" cx="58" cy="899"/><ellipse id="bk20" class="nb" cx="41" cy="906"/><ellipse id="bk21" class="nb" cx="80" cy="907"/><ellipse id="bk22" class="nb" cx="112" cy="901"/><ellipse id="bk23" class="nb" cx="147" cy="899"/><ellipse id="bk24" class="nb" cx="57" cy="919"/><ellipse id="bk25" class="nb" cx="80" cy="921"/><ellipse id="bk26" class="nb" cx="111" cy="918"/><ellipse id="bk27" class="nb" cx="135" cy="921"/><ellipse id="bk28" class="nb" cx="80" cy="934"/><ellipse id="bk29" class="nb" cx="105" cy="934"/><ellipse id="bk30" class="nb" cx="120" cy="942"/><ellipse id="bk31" class="nb" cx="141" cy="945"/><ellipse id="bk32" class="nb" cx="155" cy="931"/><ellipse id="bk33" class="nb" cx="168" cy="946"/><ellipse id="bk34" class="nb" cx="169" cy="918"/><ellipse id="bk35" class="nb" cx="181" cy="936"/><ellipse id="bk36" class="nb" cx="182" cy="902"/><ellipse id="bk37" class="nb" cx="202" cy="925"/><ellipse id="bk38" class="nb" cx="204" cy="941"/><ellipse id="bk39" class="nb" cx="213" cy="912"/><ellipse id="bk40" class="nb" cx="207" cy="887"/><ellipse id="bk41" class="nb" cx="227" cy="931"/><ellipse id="bk42" class="nb" cx="233" cy="901"/><ellipse id="bk43" class="nb" cx="244" cy="921"/><ellipse id="bk44" class="nb" cx="260" cy="908"/><ellipse id="bk45" class="nb" cx="257" cy="890"/><ellipse id="bk46" class="nb" cx="241" cy="874"/><ellipse id="bk47" class="nb" cx="219" cy="857"/>
</g>
<g id="br-red" class="r">
<ellipse id="br0" class="nb" cx="178" cy="764"/><ellipse id="br1" class="nb" cx="80" cy="721"/><ellipse id="br2" class="nb" cx="106" cy="718"/><ellipse id="br3" class="nb" cx="63" cy="733"/><ellipse id="br4" class="nb" cx="95" cy="738"/><ellipse id="br5" class="nb" cx="69" cy="749"/><ellipse id="br6" class="nb" cx="140" cy="803"/><ellipse id="br7" class="nb" cx="165" cy="807"/><ellipse id="br8" class="nb" cx="321" cy="747"/><ellipse id="br9" class="nb" cx="324" cy="758"/><ellipse id="br10" class="nb" cx="328" cy="769"/>
</g>
<g id="br-blue" class="b">
<ellipse id="bb0" class="nb" cx="287" cy="702"/><ellipse id="bb1" class="nb" cx="225" cy="636"/><ellipse id="bb2" class="nb" cx="254" cy="635"/><ellipse id="bb3" class="nb" cx="204" cy="647"/><ellipse id="bb4" class="nb" cx="233" cy="650"/><ellipse id="bb5" class="nb" cx="267" cy="648"/><ellipse id="bb6" class="nb" cx="181" cy="662"/><ellipse id="bb7" class="nb" cx="202" cy="664"/><ellipse id="bb8" class="nb" cx="242" cy="666"/><ellipse id="bb9" class="nb" cx="214" cy="679"/><ellipse id="bb10" class="nb" cx="190" cy="685"/><ellipse id="bb11" class="nb" cx="394" cy="706"/><ellipse id="bb12" class="nb" cx="376" cy="712"/><ellipse id="bb13" class="nb" cx="391" cy="721"/><ellipse id="bb14" class="nb" cx="369" cy="724"/><ellipse id="bb15" class="nb" cx="378" cy="734"/>
</g>
<g id="br-yellow" class="y">
<ellipse id="by0" class="nb" cx="363" cy="646"/><ellipse id="by1" class="nb" cx="328" cy="574"/><ellipse id="by2" class="nb" cx="354" cy="572"/><ellipse id="by3" class="nb" cx="380" cy="572"/><ellipse id="by4" class="nb" cx="404" cy="577"/><ellipse id="by5" class="nb" cx="427" cy="583"/><ellipse id="by6" class="nb" cx="434" cy="598"/><ellipse id="by7" class="nb" cx="309" cy="586"/><ellipse id="by8" class="nb" cx="341" cy="589"/><ellipse id="by9" class="nb" cx="370" cy="588"/><ellipse id="by10" class="nb" cx="398" cy="594"/><ellipse id="by11" class="nb" cx="306" cy="642"/><ellipse id="by12" class="nb" cx="315" cy="653"/><ellipse id="by13" class="nb" cx="386" cy="691"/><ellipse id="by14" class="nb" cx="300" cy="753"/><ellipse id="by15" class="nb" cx="309" cy="762"/>
</g>
<g id="br-green" class="g">
<ellipse id="bg0" class="nb" cx="472" cy="754"/><ellipse id="bg1" class="nb" cx="480" cy="687"/><ellipse id="bg2" class="nb" cx="510" cy="682"/><ellipse id="bg3" class="nb" cx="541" cy="684"/><ellipse id="bg4" class="nb" cx="567" cy="691"/><ellipse id="bg5" class="nb" cx="586" cy="702"/><ellipse id="bg6" class="nb" cx="604" cy="712"/><ellipse id="bg7" class="nb" cx="615" cy="728"/><ellipse id="bg8" class="nb" cx="621" cy="744"/><ellipse id="bg9" class="nb" cx="619" cy="759"/><ellipse id="bg10" class="nb" cx="617" cy="774"/><ellipse id="bg11" class="nb" cx="604" cy="796"/><ellipse id="bg12" class="nb" cx="465" cy="707"/><ellipse id="bg13" class="nb" cx="496" cy="701"/><ellipse id="bg14" class="nb" cx="522" cy="696"/><ellipse id="bg15" class="nb" cx="548" cy="701"/><ellipse id="bg16" class="nb" cx="566" cy="713"/><ellipse id="bg17" class="nb" cx="591" cy="724"/><ellipse id="bg18" class="nb" cx="599" cy="743"/><ellipse id="bg19" class="nb" cx="595" cy="761"/><ellipse id="bg20" class="nb" cx="599" cy="781"/><ellipse id="bg21" class="nb" cx="576" cy="794"/><ellipse id="bg22" class="nb" cx="578" cy="808"/><ellipse id="bg23" class="nb" cx="560" cy="815"/><ellipse id="bg24" class="nb" cx="534" cy="823"/><ellipse id="bg25" class="nb" cx="509" cy="823"/><ellipse id="bg26" class="nb" cx="484" cy="823"/><ellipse id="bg27" class="nb" cx="453" cy="811"/><ellipse id="bg28" class="nb" cx="441" cy="789"/><ellipse id="bg29" class="nb" cx="477" cy="786"/><ellipse id="bg30" class="nb" cx="481" cy="806"/><ellipse id="bg31" class="nb" cx="509" cy="802"/><ellipse id="bg32" class="nb" cx="538" cy="795"/><ellipse id="bg33" class="nb" cx="538" cy="808"/><ellipse id="bg34" class="nb" cx="512" cy="774"/><ellipse id="bg35" class="nb" cx="545" cy="781"/><ellipse id="bg36" class="nb" cx="573" cy="778"/><ellipse id="bg37" class="nb" cx="542" cy="759"/><ellipse id="bg38" class="nb" cx="572" cy="759"/><ellipse id="bg39" class="nb" cx="574" cy="741"/><ellipse id="bg40" class="nb" cx="557" cy="728"/><ellipse id="bg41" class="nb" cx="528" cy="739"/><ellipse id="bg42" class="nb" cx="528" cy="716"/><ellipse id="bg43" class="nb" cx="494" cy="722"/><ellipse id="bg44" class="nb" cx="325" cy="814"/>
</g>
</g>
</g>
<g id="label-brunson">
<text class="t" x="333" y="919" font-size="50" textLength="195" lengthAdjust="spacingAndGlyphs">Brunson</text>
<rect class="ul" x="332" y="922" width="197" height="3"/>
</g>
</svg>
